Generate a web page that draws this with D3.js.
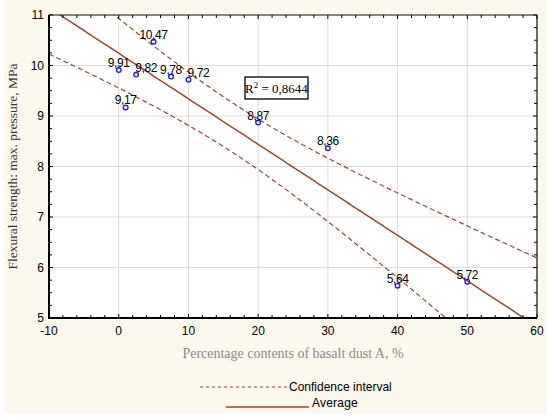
<!DOCTYPE html>
<html>
<head>
<meta charset="utf-8">
<script src="https://cdn.jsdelivr.net/npm/d3@7"></script>
<style>
  html, body { margin: 0; padding: 0; background: #fff; }
  svg { display: block; }
</style>
</head>
<body>
<div id="chart"></div>
<script>
// basalt dust content (%) and measured flexural strength (MPa)
const dustContent = [0, 1, 2.5, 5, 7.5, 10, 20, 30, 40, 50];
const strength = [9.91, 9.17, 9.82, 10.47, 9.78, 9.72, 8.87, 8.36, 5.64, 5.72];
const xTicks = [-10, 0, 10, 20, 30, 40, 50, 60];
const yTicks = [5, 6, 7, 8, 9, 10, 11];
const legendLabels = ["Confidence interval", "Average"];
const rSquaredText = "0,8644";

const width = 550, height = 417;
const margin = { top: 15, right: 13, bottom: 99, left: 49 };

const svg = d3.select("#chart").append("svg")
    .attr("width", width)
    .attr("height", height)
    .attr("viewBox", [0, 0, width, height]);

svg.append("rect")
    .attr("x", 4).attr("y", 0)
    .attr("width", 543).attr("height", 413)
    .attr("fill", "#fcf8ec");

const x = d3.scaleLinear()
    .domain([-10, 60])
    .range([margin.left, width - margin.right]);
const y = d3.scaleLinear()
    .domain([5, 11])
    .range([height - margin.bottom, margin.top]);

svg.append("rect")
    .attr("x", x(-10)).attr("y", y(11))
    .attr("width", x(60) - x(-10)).attr("height", y(5) - y(11))
    .attr("fill", "#fff");

// grid
const grid = svg.append("g").attr("stroke", "#dcdcdc").attr("stroke-width", 1);
grid.selectAll(".gx").data(xTicks.slice(1, -1)).join("line")
    .attr("x1", d => x(d)).attr("x2", d => x(d))
    .attr("y1", y(11)).attr("y2", y(5));
grid.selectAll(".gy").data(yTicks.slice(1, -1)).join("line")
    .attr("y1", d => y(d)).attr("y2", d => y(d))
    .attr("x1", x(-10)).attr("x2", x(60));

// linear regression + 95% confidence band for the mean
const n = dustContent.length;
const mx = d3.mean(dustContent), my = d3.mean(strength);
const sxx = d3.sum(dustContent, v => (v - mx) ** 2);
const sxy = d3.sum(dustContent, (v, i) => (v - mx) * (strength[i] - my));
const slope = sxy / sxx;
const icpt = my - slope * mx;
const sse = d3.sum(dustContent, (v, i) => (strength[i] - (icpt + slope * v)) ** 2);
const s = Math.sqrt(sse / (n - 2));
const t = 2.306; // t(0.975, 8)

const xs = d3.range(-10, 60.01, 0.5);
const fit = v => icpt + slope * v;
const half = v => t * s * Math.sqrt(1 / n + (v - mx) ** 2 / sxx);

svg.append("clipPath").attr("id", "plot")
  .append("rect")
    .attr("x", x(-10)).attr("y", y(11))
    .attr("width", x(60) - x(-10)).attr("height", y(5) - y(11));

const lines = svg.append("g").attr("clip-path", "url(#plot)").attr("fill", "none");
const line = f => d3.line().x(v => x(v)).y(v => y(f(v)))(xs);

lines.append("path")
    .attr("d", line(v => fit(v) + half(v)))
    .attr("stroke", "#9a4a2c").attr("stroke-width", 1.2)
    .attr("stroke-dasharray", "5,3");
lines.append("path")
    .attr("d", line(v => fit(v) - half(v)))
    .attr("stroke", "#9a4a2c").attr("stroke-width", 1.2)
    .attr("stroke-dasharray", "5,3");
lines.append("path")
    .attr("d", line(fit))
    .attr("stroke", "#9a4a2c").attr("stroke-width", 1.5);

// frame and ticks
const x0 = x(-10), x1 = x(60), y0 = y(5), y1 = y(11);
const ticks = svg.append("g").attr("stroke", "#000").attr("stroke-width", 1);
const minorX = d3.range(-10, 60.01, 2);
const minorY = d3.range(5, 11.01, 0.25);
ticks.selectAll(".tb").data(minorX).join("line")
    .attr("x1", d => x(d)).attr("x2", d => x(d))
    .attr("y1", y0).attr("y2", d => y0 - (d % 10 === 0 ? 4 : 3));
ticks.selectAll(".tt").data(minorX).join("line")
    .attr("x1", d => x(d)).attr("x2", d => x(d))
    .attr("y1", y1).attr("y2", d => y1 + (d % 10 === 0 ? 4 : 3));
ticks.selectAll(".tl").data(minorY).join("line")
    .attr("y1", d => y(d)).attr("y2", d => y(d))
    .attr("x1", x0).attr("x2", d => x0 + (d % 1 === 0 ? 4 : 3));
ticks.selectAll(".tr").data(minorY).join("line")
    .attr("y1", d => y(d)).attr("y2", d => y(d))
    .attr("x1", x1).attr("x2", d => x1 - (d % 1 === 0 ? 4 : 3));

svg.append("path")
    .attr("d", `M${x0},${y1}H${x1}V${y0}`)
    .attr("fill", "none").attr("stroke", "#111").attr("stroke-width", 1.2);
svg.append("path")
    .attr("d", `M${x0},${y1}V${y0}H${x1}`)
    .attr("fill", "none").attr("stroke", "#000").attr("stroke-width", 2);

// tick labels
const tickFont = "'Liberation Sans', Arial, sans-serif";
svg.append("g")
    .attr("font-family", tickFont).attr("font-size", 12).attr("text-anchor", "middle")
  .selectAll("text").data(xTicks).join("text")
    .attr("x", d => x(d)).attr("y", y0 + 17)
    .text(d => d);
svg.append("g")
    .attr("font-family", tickFont).attr("font-size", 12).attr("text-anchor", "end")
  .selectAll("text").data(yTicks).join("text")
    .attr("x", x0 - 5).attr("y", d => y(d)).attr("dy", "0.35em")
    .text(d => d);

// axis titles
svg.append("text")
    .attr("transform", `translate(17,${(y0 + y1) / 2}) rotate(-90)`)
    .attr("text-anchor", "middle")
    .attr("font-family", "'Liberation Serif', serif").attr("font-size", 13.5)
    .attr("fill", "#333")
    .text("Flexural strength: max. pressure, MPa");
svg.append("text")
    .attr("x", (x0 + x1) / 2).attr("y", 358)
    .attr("text-anchor", "middle")
    .attr("font-family", "'Liberation Serif', serif").attr("font-size", 14)
    .attr("fill", "#8a8a8a")
    .text("Percentage contents of basalt dust A, %");

// points and value labels
const labelShift = [0, 0, 10, 0, 0, 10, 0, 0, 0, 0];
const pts = dustContent.map((v, i) => ({ x: v, y: strength[i], i }));
svg.append("g")
  .selectAll("circle").data(pts).join("circle")
    .attr("cx", d => x(d.x)).attr("cy", d => y(d.y)).attr("r", 2.3)
    .attr("fill", "none").attr("stroke", "#2020d8").attr("stroke-width", 1.4);
svg.append("g")
    .attr("font-family", tickFont).attr("font-size", 12).attr("letter-spacing", -0.4)
    .attr("text-anchor", "middle")
  .selectAll("text").data(pts).join("text")
    .attr("x", d => x(d.x) + labelShift[d.i]).attr("y", d => y(d.y) - 3)
    .text(d => d3.format(".2f")(d.y).replace(".", ","));

// R^2 box
const box = svg.append("g").attr("transform", "translate(245,77)");
box.append("rect")
    .attr("width", 63).attr("height", 22)
    .attr("fill", "#fff").attr("stroke", "#000").attr("stroke-width", 1.3);
const rt = box.append("text")
    .attr("x", 31.5).attr("y", 16).attr("text-anchor", "middle")
    .attr("font-family", "'Liberation Serif', serif").attr("font-size", 13);
rt.append("tspan").text("R");
rt.append("tspan").attr("dy", -5).attr("font-size", 9).text("2");
rt.append("tspan").attr("dy", 5).text(" = " + rSquaredText);

// legend
const legend = svg.append("g").attr("font-family", tickFont).attr("font-size", 12);
legend.append("line")
    .attr("x1", 200).attr("x2", 287).attr("y1", 387).attr("y2", 387)
    .attr("stroke", "#9a4a2c").attr("stroke-width", 1.2).attr("stroke-dasharray", "3,3");
legend.append("text").attr("x", 289).attr("y", 391).text(legendLabels[0]);
legend.append("line")
    .attr("x1", 226).attr("x2", 309).attr("y1", 407).attr("y2", 407)
    .attr("stroke", "#9a4a2c").attr("stroke-width", 1.5);
legend.append("text").attr("x", 312).attr("y", 407).attr("letter-spacing", 0.2).text(legendLabels[1]);
</script>
</body>
</html>
